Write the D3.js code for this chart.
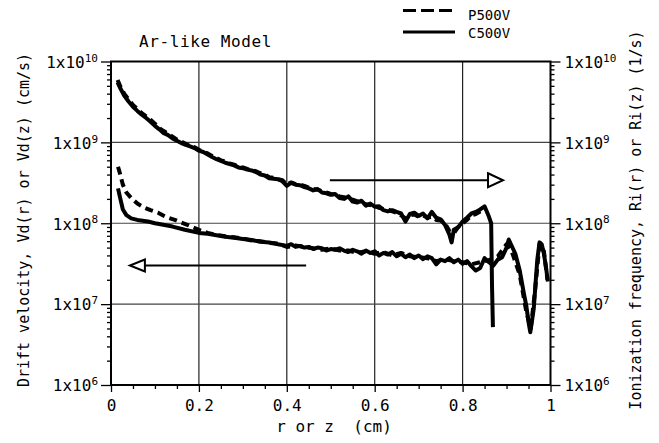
<!DOCTYPE html>
<html>
<head>
<meta charset="utf-8">
<script src="https://cdn.jsdelivr.net/npm/d3@7"></script>
<style>
  html, body { margin: 0; padding: 0; background: #fff; }
  svg { display: block; }
  text { font-family: "DejaVu Sans Mono", "Liberation Mono", monospace; fill: #000; }
</style>
</head>
<body>
<svg id="chart" width="659" height="443"></svg>
<script>
// ---------- DATA ----------
const xTicks = [0, 0.2, 0.4, 0.6, 0.8, 1];
const xTickLabels = ["0", "0.2", "0.4", "0.6", "0.8", "1"];
const decades = [1e6, 1e7, 1e8, 1e9, 1e10];
const decadeExponents = ["6", "7", "8", "9", "10"];
const seriesNames = ["P500V", "C500V"];

// Ionization frequency (right axis), C500V (solid)
const rRiC = [0.015,0.02,0.03,0.04,0.05,0.06,0.07,0.08,0.09,0.10,0.11,0.12,0.13,0.14,0.15,0.16,0.17,0.18,0.19,0.20,
  0.21,0.22,0.23,0.24,0.25,0.26,0.27,0.28,0.29,0.30,0.31,0.32,0.33,0.34,0.35,0.36,0.37,0.38,0.39,0.40,
  0.41,0.42,0.43,0.44,0.45,0.46,0.47,0.48,0.49,0.50,0.51,0.52,0.53,0.54,0.55,0.56,0.57,0.58,0.59,0.60,
  0.61,0.62,0.63,0.64,0.65,0.66,0.67,0.68,0.69,0.70,0.71,0.72,0.73,0.74,0.75,0.76,0.77,0.775,0.78,0.79,
  0.80,0.81,0.82,0.83,0.84,0.85,0.86,0.865,0.867,0.869];
const riC = [5.5e9,4.8e9,3.8e9,3.2e9,2.75e9,2.45e9,2.2e9,2.0e9,1.8e9,1.6e9,1.45e9,1.3e9,1.23e9,1.12e9,1.05e9,9.8e8,9.3e8,8.9e8,8.5e8,7.9e8,
  7.6e8,7.1e8,6.6e8,6.2e8,5.9e8,5.6e8,5.4e8,5.2e8,4.9e8,4.8e8,4.6e8,4.5e8,4.3e8,4.0e8,3.9e8,3.6e8,3.55e8,3.5e8,3.3e8,2.9e8,
  3.15e8,3.0e8,2.95e8,2.8e8,2.7e8,2.55e8,2.65e8,2.4e8,2.35e8,2.25e8,2.3e8,2.05e8,2.0e8,2.15e8,1.85e8,1.8e8,1.9e8,1.65e8,1.75e8,1.6e8,
  1.62e8,1.45e8,1.4e8,1.45e8,1.38e8,1.32e8,1.05e8,1.3e8,1.35e8,1.23e8,1.32e8,1.15e8,1.38e8,1.17e8,1.12e8,9.5e7,7.2e7,5.8e7,8.3e7,8.9e7,
  1.05e8,1.17e8,1.32e8,1.38e8,1.48e8,1.62e8,1.2e8,1.0e8,1.6e7,5.2e6];

// Ionization frequency (right axis), P500V (dashed)
const rRiP = [0.015,0.02,0.03,0.04,0.05,0.06,0.07,0.08,0.09,0.10,0.11,0.12,0.13,0.14,0.15,0.16,0.17,0.18,0.19,0.20,
  0.21,0.22,0.23,0.24,0.25,0.26,0.27,0.28,0.29,0.30,0.31,0.32,0.33,0.34,0.35,0.36,0.37,0.38,0.39,0.40,
  0.41,0.42,0.43,0.44,0.45,0.46,0.47,0.48,0.49,0.50,0.51,0.52,0.53,0.54,0.55,0.56,0.57,0.58,0.59,0.60,
  0.61,0.62,0.63,0.64,0.65,0.66,0.67,0.68,0.69,0.70,0.71,0.72,0.73,0.74,0.75,0.76,0.77,0.78,0.79,0.80,
  0.81,0.82,0.83,0.84,0.85];
const riP = [5.9e9,5.1e9,4.0e9,3.4e9,2.9e9,2.6e9,2.3e9,2.1e9,1.9e9,1.7e9,1.5e9,1.38e9,1.28e9,1.18e9,1.08e9,1.02e9,9.6e8,9.0e8,8.7e8,8.1e8,
  7.7e8,7.3e8,6.8e8,6.4e8,6.0e8,5.8e8,5.5e8,5.3e8,5.0e8,4.9e8,4.7e8,4.55e8,4.4e8,4.15e8,4.0e8,3.7e8,3.65e8,3.5e8,3.4e8,3.0e8,
  3.2e8,3.05e8,3.0e8,2.9e8,2.75e8,2.65e8,2.6e8,2.5e8,2.4e8,2.3e8,2.25e8,2.15e8,2.1e8,2.0e8,1.95e8,1.88e8,1.8e8,1.72e8,1.68e8,1.65e8,
  1.55e8,1.5e8,1.48e8,1.4e8,1.35e8,1.25e8,1.15e8,1.25e8,1.28e8,1.2e8,1.25e8,1.18e8,1.2e8,1.1e8,1.08e8,1.0e8,8.0e7,7.5e7,9.0e7,1.0e8,
  1.1e8,1.25e8,1.3e8,1.4e8,1.5e8];

// Drift velocity (left axis), C500V (solid)
const rVdC = [0.016,0.02,0.027,0.035,0.046,0.06,0.084,0.10,0.122,0.14,0.168,0.20,0.22,0.24,0.26,0.28,0.30,0.32,0.34,0.36,0.38,0.40,
  0.41,0.42,0.43,0.44,0.45,0.46,0.47,0.48,0.49,0.50,0.51,0.52,0.53,0.54,0.55,0.56,0.57,0.58,0.59,0.60,
  0.61,0.62,0.63,0.64,0.65,0.66,0.67,0.68,0.69,0.70,0.71,0.72,0.73,0.74,0.75,0.76,0.77,0.78,0.79,0.80,
  0.81,0.82,0.83,0.84,0.85,0.86,0.87,0.88,0.89,0.90,0.905,0.91,0.92,0.93,0.94,0.945,0.95,0.954,0.958,0.962,
  0.966,0.97,0.975,0.98,0.985,0.99,0.994];
const vdC = [2.7e8,2.15e8,1.48e8,1.26e8,1.15e8,1.1e8,1.05e8,1.0e8,9.5e7,9.1e7,8.3e7,7.6e7,7.4e7,7.1e7,6.8e7,6.6e7,6.4e7,6.2e7,5.9e7,5.8e7,5.5e7,5.25e7,
  5.5e7,5.1e7,5.25e7,5.0e7,5.1e7,4.8e7,5.0e7,4.9e7,4.6e7,4.8e7,4.7e7,4.9e7,4.6e7,4.4e7,4.7e7,4.5e7,4.2e7,4.6e7,4.3e7,4.5e7,
  4.0e7,4.3e7,4.1e7,4.4e7,3.9e7,4.2e7,3.8e7,4.1e7,3.7e7,4.0e7,3.6e7,3.9e7,3.7e7,3.1e7,3.55e7,3.4e7,3.7e7,3.3e7,3.55e7,3.15e7,
  3.4e7,2.95e7,2.6e7,2.8e7,3.7e7,3.3e7,3.0e7,3.55e7,3.8e7,5.0e7,6.3e7,5.5e7,4.2e7,2.6e7,1.3e7,9.5e6,6.0e6,4.5e6,6.3e6,8.9e6,
  1.8e7,3.55e7,5.8e7,5.5e7,4.2e7,2.8e7,1.9e7];

// Drift velocity (left axis), P500V (dashed)
const rVdP = [0.016,0.02,0.027,0.035,0.046,0.06,0.077,0.09,0.107,0.125,0.145,0.175,0.20,0.22,0.24,0.26,0.28,0.30,0.32,0.34,0.36,0.38,0.40,
  0.42,0.44,0.46,0.48,0.50,0.52,0.54,0.56,0.58,0.60,0.62,0.64,0.66,0.68,0.70,0.72,0.74,0.76,0.78,0.80,
  0.82,0.84,0.86,0.88,0.90,0.91,0.93,0.945,0.955,0.965,0.975,0.985,0.993];
const vdP = [5.0e8,4.2e8,3.0e8,2.4e8,2.05e8,1.75e8,1.55e8,1.45e8,1.35e8,1.2e8,1.1e8,9.5e7,8.3e7,7.6e7,7.2e7,6.9e7,6.7e7,6.5e7,6.1e7,6.0e7,5.7e7,5.6e7,5.1e7,
  5.3e7,5.1e7,4.9e7,4.7e7,4.9e7,4.6e7,4.6e7,4.3e7,4.5e7,4.2e7,4.4e7,4.0e7,4.3e7,3.9e7,3.8e7,3.7e7,3.4e7,3.6e7,3.4e7,3.3e7,
  3.1e7,3.3e7,3.5e7,3.9e7,5.5e7,4.8e7,2.3e7,8.0e6,5.0e6,1.5e7,5.5e7,4.5e7,2.0e7];

// Arrow annotations (data coordinates): [xFrom, xTo, yValue]
const arrowRight = [0.498, 0.892, 3.4e8];
const arrowLeft = [0.444, 0.043, 3.0e7];

// ---------- CHART ----------
const svg = d3.select("#chart");
const L = 111, R = 550.5, T = 61.5, B = 385;
const x = d3.scaleLinear().domain([0, 1]).range([L, R]);
const y = d3.scaleLog().domain([1e6, 1e10]).range([B, T]);

const minorY = [];
for (let e = 6; e < 10; e++) for (let m = 2; m <= 9; m++) minorY.push(m * Math.pow(10, e));
const minorX = d3.range(0.05, 1.0, 0.05).filter(v => Math.abs(v / 0.2 - Math.round(v / 0.2)) > 1e-6);

// grid
const grid = svg.append("g");
grid.selectAll("line.v").data(xTicks.slice(1, -1)).join("line")
  .attr("x1", d => x(d)).attr("x2", d => x(d)).attr("y1", T).attr("y2", B)
  .attr("stroke", "#222").attr("stroke-width", 1.2);
grid.selectAll("line.h").data(decades.slice(1, -1)).join("line")
  .attr("x1", L).attr("x2", R).attr("y1", d => y(d)).attr("y2", d => y(d))
  .attr("stroke", "#444").attr("stroke-width", 1.2);

// axes
function styleAxis(g) {
  g.select(".domain").remove();
  g.selectAll(".tick line").attr("stroke", "#000").attr("stroke-width", 1.3);
}
svg.append("g").attr("transform", `translate(${L},0)`)
  .call(d3.axisLeft(y).tickValues(minorY).tickSize(4).tickFormat("")).call(styleAxis);
svg.append("g").attr("transform", `translate(${R},0)`)
  .call(d3.axisRight(y).tickValues(minorY).tickSize(4).tickFormat("")).call(styleAxis);
svg.append("g").attr("transform", `translate(0,${B})`)
  .call(d3.axisBottom(x).tickValues(minorX).tickSize(4).tickFormat("")).call(styleAxis);

function decadeLabel(sel) {
  sel.each(function(d, i) {
    const t = d3.select(this);
    t.text(null).style("font-size", "16px").attr("fill", "#000");
    t.append("tspan").text("1x10");
    t.append("tspan").text(decadeExponents[i]).attr("dy", "-0.55em").style("font-size", "11px");
  });
}
const yl = svg.append("g").attr("transform", `translate(${L},0)`)
  .call(d3.axisLeft(y).tickValues(decades).tickSize(10).tickPadding(3).tickFormat(""));
styleAxis(yl);
yl.selectAll(".tick text").call(decadeLabel).attr("dy", "0.36em");

const yr = svg.append("g").attr("transform", `translate(${R},0)`)
  .call(d3.axisRight(y).tickValues(decades).tickSize(10).tickPadding(4).tickFormat(""));
styleAxis(yr);
yr.selectAll(".tick text").call(decadeLabel).attr("dy", "0.36em");

const xa = svg.append("g").attr("transform", `translate(0,${B})`)
  .call(d3.axisBottom(x).tickValues(xTicks).tickSize(7).tickPadding(8).tickFormat((d, i) => xTickLabels[i]));
styleAxis(xa);
xa.selectAll(".tick text").style("font-size", "16px").attr("fill", "#000");

// frame
svg.append("rect").attr("x", L).attr("y", T).attr("width", R - L).attr("height", B - T)
  .attr("fill", "none").attr("stroke", "#000").attr("stroke-width", 2);

// curves
const line = d3.line().x(d => x(d[0])).y(d => y(d[1]));
const curves = [
  { r: rRiP, v: riP, dash: "8,5" },
  { r: rRiC, v: riC, dash: null },
  { r: rVdP, v: vdP, dash: "8,5" },
  { r: rVdC, v: vdC, dash: null }
];
curves.forEach(c => {
  svg.append("path").datum(c.r.map((r, i) => [r, c.v[i]]))
    .attr("d", line).attr("fill", "none").attr("stroke", "#000")
    .attr("stroke-width", 4).attr("stroke-linejoin", "round").attr("stroke-linecap", "butt")
    .attr("stroke-dasharray", c.dash);
});

// arrows
function arrow(a, headLen, headHalf) {
  const x0 = x(a[0]), x1 = x(a[1]), yy = y(a[2]);
  const dir = Math.sign(x1 - x0);
  const xb = x1 - dir * headLen;
  svg.append("line").attr("x1", x0).attr("x2", xb).attr("y1", yy).attr("y2", yy)
    .attr("stroke", "#000").attr("stroke-width", 2);
  svg.append("path").attr("d", `M${xb},${yy - headHalf}L${x1},${yy}L${xb},${yy + headHalf}Z`)
    .attr("fill", "#fff").attr("stroke", "#000").attr("stroke-width", 2);
}
arrow(arrowRight, 15, 7);
arrow(arrowLeft, 15, 6);

// title
svg.append("text").attr("x", 139).attr("y", 47).style("font-size", "16px")
  .style("letter-spacing", "0.6px").text("Ar-like Model");

// axis titles
svg.append("text").attr("transform", "translate(29,220) rotate(-90)").attr("text-anchor", "middle")
  .style("font-size", "15px").text("Drift velocity, Vd(r) or Vd(z) (cm/s)");
svg.append("text").attr("transform", "translate(641,220) rotate(-90)").attr("text-anchor", "middle")
  .style("font-size", "15px").text("Ionization frequency, Ri(r) or Ri(z) (1/s)");
svg.append("text").attr("x", 334).attr("y", 432).attr("text-anchor", "middle")
  .style("font-size", "16px").attr("xml:space", "preserve").style("white-space", "pre").text("r or z  (cm)");

// legend
svg.append("line").attr("x1", 403).attr("x2", 452).attr("y1", 10.5).attr("y2", 10.5)
  .attr("stroke", "#000").attr("stroke-width", 3).attr("stroke-dasharray", "13,5");
svg.append("line").attr("x1", 403).attr("x2", 455).attr("y1", 32).attr("y2", 32)
  .attr("stroke", "#000").attr("stroke-width", 3);
svg.append("text").attr("x", 468).attr("y", 20).style("font-size", "14px").text(seriesNames[0]);
svg.append("text").attr("x", 468).attr("y", 37.5).style("font-size", "14px").text(seriesNames[1]);
</script>
</body>
</html>
